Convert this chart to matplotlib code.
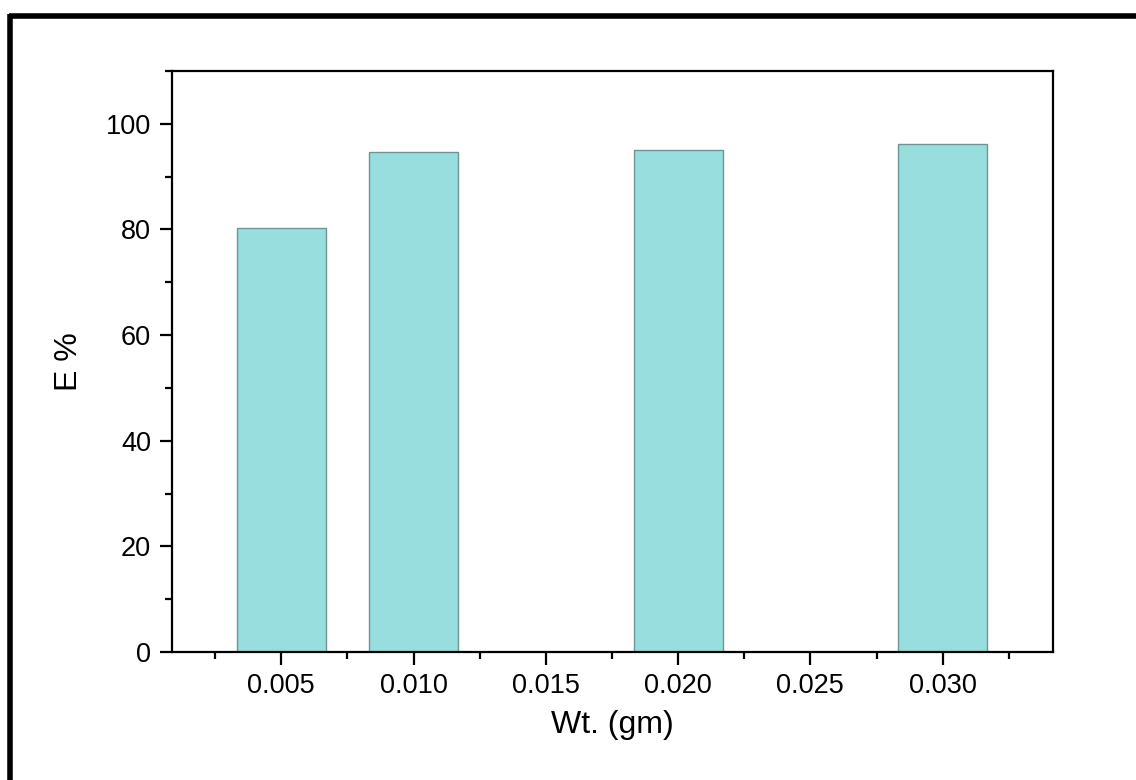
import numpy as np
import matplotlib
matplotlib.use('Agg')
import matplotlib.pyplot as plt
from matplotlib.ticker import MultipleLocator
from matplotlib.lines import Line2D

# data
weights = [0.005, 0.010, 0.020, 0.030]
efficiency = [80.3, 94.6, 95.1, 96.1]
x_ticks = [0.005, 0.010, 0.015, 0.020, 0.025, 0.030]
x_tick_labels = ['0.005', '0.010', '0.015', '0.020', '0.025', '0.030']
y_ticks = [0, 20, 40, 60, 80, 100]

plt.rcParams['font.family'] = ['Liberation Sans', 'DejaVu Sans']

fig = plt.figure(figsize=(11.36, 7.8), dpi=100, facecolor='white')
ax = fig.add_axes([0.1514, 0.1641, 0.7755, 0.7449])

ax.bar(weights, efficiency, width=0.00336, color='#99dede',
       edgecolor='#6f9494', linewidth=1.0, zorder=2)

ax.set_xlim(0.00087, 0.03417)
ax.set_ylim(0, 110)
ax.set_xticks(x_ticks)
ax.set_xticklabels(x_tick_labels)
ax.set_yticks(y_ticks)
ax.xaxis.set_minor_locator(MultipleLocator(0.0025))
ax.yaxis.set_minor_locator(MultipleLocator(10))

ax.tick_params(axis='both', which='major', direction='out', length=9,
               width=1.6, labelsize=19.5, pad=6, colors='black')
ax.tick_params(axis='both', which='minor', direction='out', length=5,
               width=1.6)
for side in ['left', 'right', 'top', 'bottom']:
    ax.spines[side].set_linewidth(1.6)

ax.set_xlabel('Wt. (gm)', fontsize=23)
ax.set_ylabel('E %', fontsize=23)
ax.xaxis.set_label_coords(0.5, -0.1)
ax.yaxis.set_label_coords(-0.1, 0.5)

# thick frame of the original figure (only top and left visible in crop)
fig.add_artist(Line2D([0.0075, 1.0], [1 - 16 / 780, 1 - 16 / 780],
                      transform=fig.transFigure, color='black', lw=4,
                      solid_capstyle='butt'))
fig.add_artist(Line2D([9.5 / 1136, 9.5 / 1136], [0.0, 1 - 14 / 780],
                      transform=fig.transFigure, color='black', lw=4,
                      solid_capstyle='butt'))

fig.savefig('out.png', dpi=100, facecolor='white')
